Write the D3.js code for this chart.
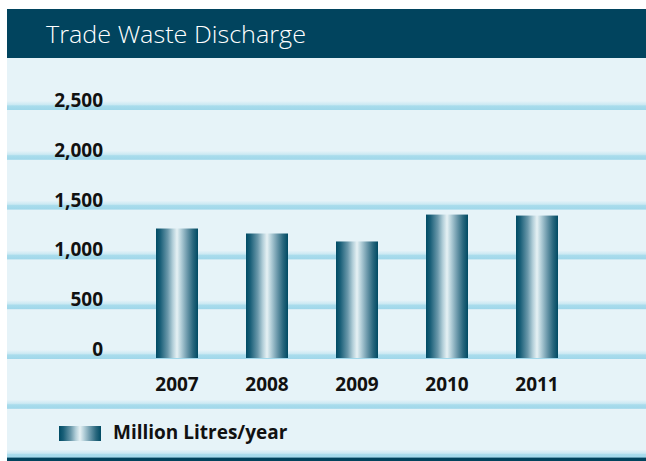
<!DOCTYPE html>
<html>
<head>
<meta charset="utf-8">
<script src="https://cdn.jsdelivr.net/npm/d3@7"></script>
<style>
  body { margin: 0; background: #ffffff; }
  svg text { font-family: "Open Sans", "Noto Sans", sans-serif; }
</style>
</head>
<body>
<div id="chart"></div>
<script>
// data
const years = ["2007", "2008", "2009", "2010", "2011"];
const discharge = [1300, 1250, 1170, 1440, 1430];
const yTicks = [0, 500, 1000, 1500, 2000, 2500];
const title = "Trade Waste Discharge";
const legendLabel = "Million Litres/year";

// default config
const config = {
    domId: "chart",
    width: 646,
    height: 461,
    panel: {x: 7, y: 9},
    headerHeight: 49,
    dark: "#01445e",
    bg: "#e6f3f8",
    line: "#9fd7ea"
};

const svg = d3.select(`#${config.domId}`).append("svg")
    .attr("width", config.width)
    .attr("height", config.height);

const defs = svg.append("defs");

// bar gradient, dark edges with a light middle
const barGrad = defs.append("linearGradient").attr("id", "barGrad")
    .attr("x1", "0%").attr("x2", "100%").attr("y1", "0%").attr("y2", "0%");
[
    [0, "#004b65"], [0.1, "#185e77"], [0.28, "#6a98aa"], [0.4, "#b3cfd9"],
    [0.5, "#e6f1f4"], [0.6, "#b2ced8"], [0.74, "#6c99ab"], [0.88, "#2a687e"], [1, "#004a63"]
].forEach(s => barGrad.append("stop").attr("offset", s[0]).attr("stop-color", s[1]));

// gridline gradient, fades in from the background
const lineGrad = defs.append("linearGradient").attr("id", "lineGrad")
    .attr("x1", "0%").attr("x2", "0%").attr("y1", "0%").attr("y2", "100%");
[
    [0, config.bg], [0.4, "#cbe9f3"], [0.55, "#a9dcec"], [1, config.line]
].forEach(s => lineGrad.append("stop").attr("offset", s[0]).attr("stop-color", s[1]));

// panel + header
svg.append("rect")
    .attr("x", config.panel.x).attr("y", config.panel.y)
    .attr("width", config.width - config.panel.x)
    .attr("height", config.height - config.panel.y)
    .attr("fill", config.bg);

svg.append("rect")
    .attr("x", config.panel.x).attr("y", config.panel.y)
    .attr("width", config.width - config.panel.x)
    .attr("height", config.headerHeight)
    .attr("fill", config.dark);

// title, narrowed a bit to match the condensed print face
svg.append("text")
    .attr("x", 46).attr("y", 43)
    .attr("fill", "#ffffff")
    .attr("font-size", 24.5)
    .attr("font-weight", 300)
    .attr("textLength", 260)
    .attr("lengthAdjust", "spacingAndGlyphs")
    .text(title);

const scale = {
    x: d3.scaleBand().domain(years).range([132, 582]).paddingInner(48 / 90).paddingOuter(24 / 90),
    y: d3.scaleLinear().domain([0, 2500]).range([358, 109])
};
const rowStep = scale.y(0) - scale.y(500);

// gridlines: value ticks plus the two rows below the axis
const lineYs = yTicks.map(scale.y).concat([scale.y(0) + rowStep, scale.y(0) + 2 * rowStep]);
svg.append("g").selectAll("rect")
    .data(lineYs)
    .join("rect")
    .attr("x", config.panel.x)
    .attr("y", d => d - 8)
    .attr("width", config.width - config.panel.x)
    .attr("height", 9)
    .attr("fill", "url(#lineGrad)");

// bottom band
svg.append("rect")
    .attr("x", config.panel.x)
    .attr("y", scale.y(0) + 2 * rowStep)
    .attr("width", config.width - config.panel.x)
    .attr("height", config.height)
    .attr("fill", config.dark);

// y labels
svg.append("g").selectAll("text")
    .data(yTicks)
    .join("text")
    .attr("x", 103)
    .attr("y", d => scale.y(d) - 2)
    .attr("text-anchor", "end")
    .attr("font-size", 19)
    .attr("font-weight", "bold")
    .attr("fill", "#111111")
    .text(d => d3.format(",")(d));

// bars
svg.append("g").selectAll("rect")
    .data(years.map((y, i) => ({year: y, value: discharge[i]})))
    .join("rect")
    .attr("x", d => scale.x(d.year))
    .attr("y", d => scale.y(d.value))
    .attr("width", scale.x.bandwidth())
    .attr("height", d => scale.y(0) - scale.y(d.value))
    .attr("fill", "url(#barGrad)");

// year labels
svg.append("g").selectAll("text")
    .data(years)
    .join("text")
    .attr("x", d => scale.x(d) + scale.x.bandwidth() / 2)
    .attr("y", 391)
    .attr("text-anchor", "middle")
    .attr("font-size", 19)
    .attr("font-weight", "bold")
    .attr("fill", "#111111")
    .text(d => d);

// legend
svg.append("rect")
    .attr("x", 59).attr("y", 426)
    .attr("width", 42).attr("height", 15)
    .attr("fill", "url(#barGrad)");

svg.append("text")
    .attr("x", 113).attr("y", 439)
    .attr("font-size", 19)
    .attr("font-weight", "bold")
    .attr("fill", "#111111")
    .text(legendLabel);
</script>
</body>
</html>
